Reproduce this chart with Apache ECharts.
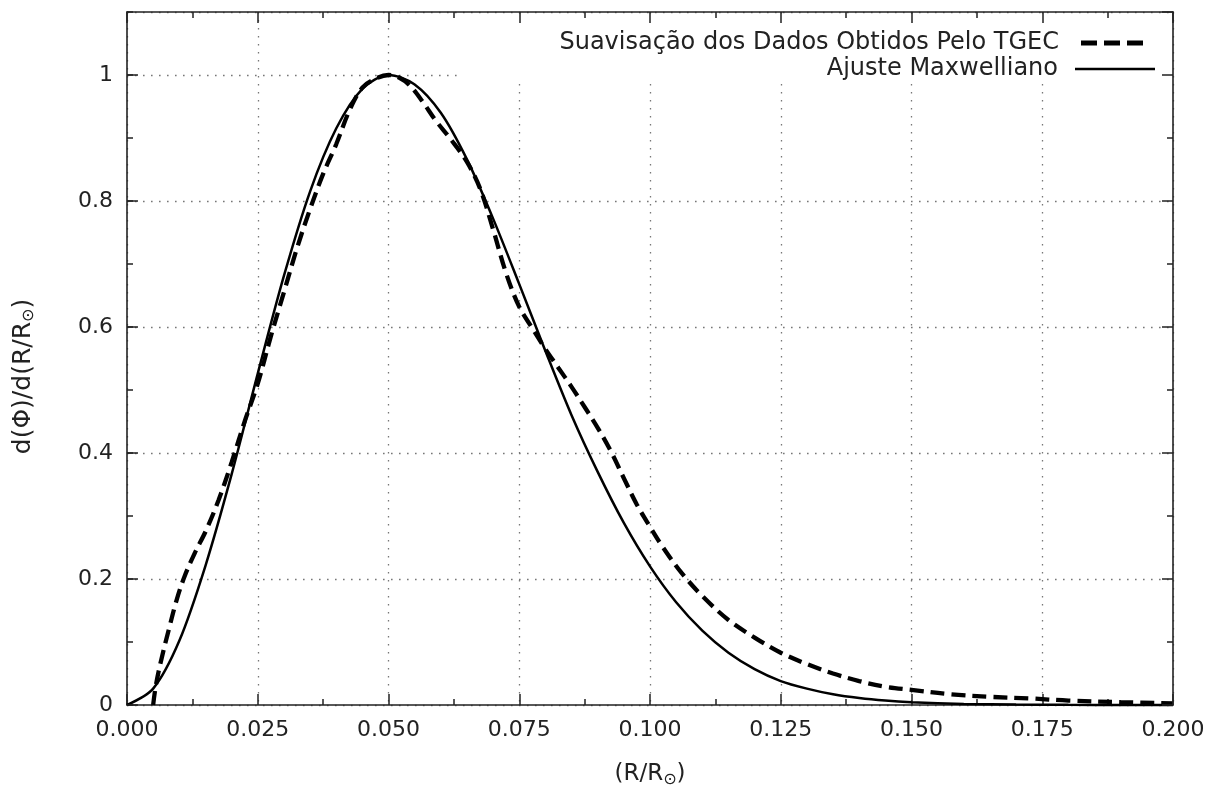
<!DOCTYPE html>
<html>
<head>
<meta charset="utf-8">
<script src="https://cdn.jsdelivr.net/npm/echarts@6/dist/echarts.min.js"></script>
<style>
html,body{margin:0;padding:0;background:#fff;}
#chart{width:1216px;height:789px;}
</style>
</head>
<body>
<div id="chart"></div>
<script>
// ---- data ----
const smoothName = 'Suavisação dos Dados Obtidos Pelo TGEC';
const fitName = 'Ajuste Maxwelliano';

const smoothX = [0.005, 0.0055, 0.0065, 0.008, 0.0095, 0.011, 0.013, 0.015, 0.0175, 0.02,
  0.0225, 0.025, 0.0275, 0.03, 0.0325, 0.035, 0.0375, 0.04, 0.0425, 0.045,
  0.0475, 0.05, 0.052, 0.054, 0.0565, 0.059, 0.062, 0.065, 0.0675, 0.07,
  0.0725, 0.075, 0.0775, 0.08, 0.0825, 0.085, 0.0875, 0.09, 0.0925, 0.095,
  0.0975, 0.1, 0.1025, 0.106, 0.11, 0.115, 0.12, 0.125, 0.13, 0.135,
  0.14, 0.145, 0.15, 0.1575, 0.165, 0.1725, 0.18, 0.19, 0.2];
const smoothY = [0, 0.03, 0.07, 0.12, 0.167, 0.204, 0.242, 0.275, 0.325, 0.385,
  0.45, 0.51, 0.585, 0.655, 0.725, 0.787, 0.843, 0.89, 0.943, 0.98,
  0.994, 1.0, 0.996, 0.984, 0.958, 0.928, 0.897, 0.862, 0.82, 0.755,
  0.685, 0.632, 0.598, 0.565, 0.535, 0.505, 0.473, 0.44, 0.403, 0.36,
  0.318, 0.283, 0.25, 0.21, 0.173, 0.135, 0.107, 0.083, 0.065, 0.05,
  0.038, 0.029, 0.024, 0.017, 0.013, 0.0105, 0.007, 0.0045, 0.0026];

const fitX = [0, 0.005, 0.01, 0.015, 0.02, 0.025, 0.03, 0.035, 0.04, 0.045,
  0.05, 0.055, 0.06, 0.065, 0.07, 0.075, 0.08, 0.085, 0.09, 0.095,
  0.1, 0.105, 0.11, 0.115, 0.12, 0.125, 0.13, 0.135, 0.14, 0.145,
  0.15, 0.16, 0.17, 0.18, 0.19, 0.2];
const fitY = [0, 0.026, 0.102, 0.221, 0.366, 0.526, 0.681, 0.815, 0.915, 0.978,
  1.0, 0.985, 0.94, 0.866, 0.772, 0.668, 0.562, 0.46, 0.37, 0.289,
  0.22, 0.163, 0.118, 0.083, 0.057, 0.038, 0.026, 0.017, 0.011, 0.007,
  0.0045, 0.0017, 0.0006, 0.0002, 0.0001, 0];

const xTickLabels = ['0.000', '0.025', '0.050', '0.075', '0.100', '0.125', '0.150', '0.175', '0.200'];
const yTickLabels = ['0', '0.2', '0.4', '0.6', '0.8', '1'];

// ---- chart ----
const FONT = 'DejaVu Sans';
const INK = '#222';
const chart = echarts.init(document.getElementById('chart'), null, {renderer: 'canvas'});

const frameLine = {show: true, onZero: false, lineStyle: {color: INK, width: 1.6}};
const majorTick = {show: true, inside: true, length: 11, lineStyle: {color: INK, width: 1.5}};
const minorTickS = {show: true, inside: true, length: 6, lineStyle: {color: INK, width: 1.5}};
const minorTickX = {show: true, splitNumber: 2, length: 6, lineStyle: {color: INK, width: 1.5}};
const gridLine = {show: true, lineStyle: {type: [1.6, 6.4], color: '#777', width: 1.3}};
const subRich = {s: {fontFamily: FONT, fontSize: 16, color: INK, verticalAlign: 'bottom', lineHeight: 16}};

function pairs(xs, ys) { return xs.map((x, i) => [x, ys[i]]); }

const option = {
  backgroundColor: '#fff',
  animation: false,
  grid: {left: 127, right: 43, top: 12, bottom: 84, containLabel: false, outerBoundsMode: 'none'},
  xAxis: [
    {
      type: 'value', min: 0, max: 0.2, interval: 0.025, position: 'bottom',
      axisLine: frameLine, axisTick: majorTick, minorTick: minorTickX,
      splitLine: gridLine,
      axisLabel: {
        color: INK, fontFamily: FONT, fontSize: 22, margin: 14,
        formatter: v => xTickLabels[Math.round(v / 0.025)] ?? ''
      },
      name: '(R/R{s|⊙})', nameLocation: 'middle', nameGap: 55,
      nameTextStyle: {color: INK, fontFamily: FONT, fontSize: 23, lineHeight: 28, rich: subRich}
    },
    {
      type: 'value', min: 0, max: 0.2, interval: 0.025, position: 'top', z: 5,
      axisLine: frameLine, axisTick: majorTick, minorTick: minorTickX,
      splitLine: {show: false}, axisLabel: {show: false}
    }
  ],
  yAxis: [
    {
      type: 'value', min: 0, max: 1.1, interval: 0.2, position: 'left',
      axisLine: frameLine, axisTick: majorTick, splitLine: gridLine,
      axisLabel: {
        color: INK, fontFamily: FONT, fontSize: 22, margin: 14, showMaxLabel: false,
        formatter: v => (v > 1.05 ? '' : (yTickLabels[Math.round(v / 0.2)] ?? ''))
      },
      name: 'd(Φ)/d(R/R{s|⊙})', nameLocation: 'middle', nameGap: 90, nameRotate: 90,
      nameTextStyle: {color: INK, fontFamily: FONT, fontSize: 25, lineHeight: 28,
        padding: [0, 36, 0, 0], rich: subRich}
    },
    {
      type: 'value', min: 0, max: 1.1, interval: 0.2, position: 'right', z: 5,
      axisLine: frameLine, axisTick: majorTick, splitLine: {show: false}, axisLabel: {show: false}
    },
    {
      type: 'value', min: 0, max: 1.1, interval: 0.1, position: 'left', z: 5,
      axisLine: {show: false, onZero: false}, axisTick: minorTickS, splitLine: {show: false}, axisLabel: {show: false}
    },
    {
      type: 'value', min: 0, max: 1.1, interval: 0.1, position: 'right', z: 5,
      axisLine: {show: false, onZero: false}, axisTick: minorTickS, splitLine: {show: false}, axisLabel: {show: false}
    }
  ],
  legend: [
    {
      data: [{name: smoothName, icon: 'path://M0,0h16v5h-16z M23,0h16v5h-16z M46,0h16v5h-16z'}],
      orient: 'vertical', right: 73, top: 31, align: 'right',
      itemWidth: 64, itemHeight: 5, padding: 0,
      textStyle: {color: INK, fontFamily: FONT, fontSize: 24, padding: [0, 16, 0, 0]}
    },
    {
      data: [{name: fitName, icon: 'path://M0,0h80v2.5h-80z'}],
      orient: 'vertical', right: 61, top: 57, align: 'right',
      itemWidth: 80, itemHeight: 2.5, padding: 0,
      textStyle: {color: INK, fontFamily: FONT, fontSize: 24, padding: [0, 12, 0, 0]}
    }
  ],
  graphic: [
    {type: 'rect', shape: {x: 460, y: 14, width: 711, height: 65}, style: {fill: '#fff'}, z: 2, silent: true}
  ],
  series: [
    {
      name: smoothName, type: 'line', xAxisIndex: 0, yAxisIndex: 0,
      data: pairs(smoothX, smoothY), showSymbol: false, symbol: 'none',
      smooth: 0.35, clip: false,
      lineStyle: {color: '#000', width: 4.3, type: [14, 7], cap: 'butt'},
      itemStyle: {color: '#000'}, z: 3
    },
    {
      name: fitName, type: 'line', xAxisIndex: 0, yAxisIndex: 0,
      data: pairs(fitX, fitY), showSymbol: false, symbol: 'none',
      smooth: 0.3, clip: false,
      lineStyle: {color: '#000', width: 2.5, type: 'solid'},
      itemStyle: {color: '#000'}, z: 3
    }
  ]
};
chart.setOption(option);
</script>
</body>
</html>
